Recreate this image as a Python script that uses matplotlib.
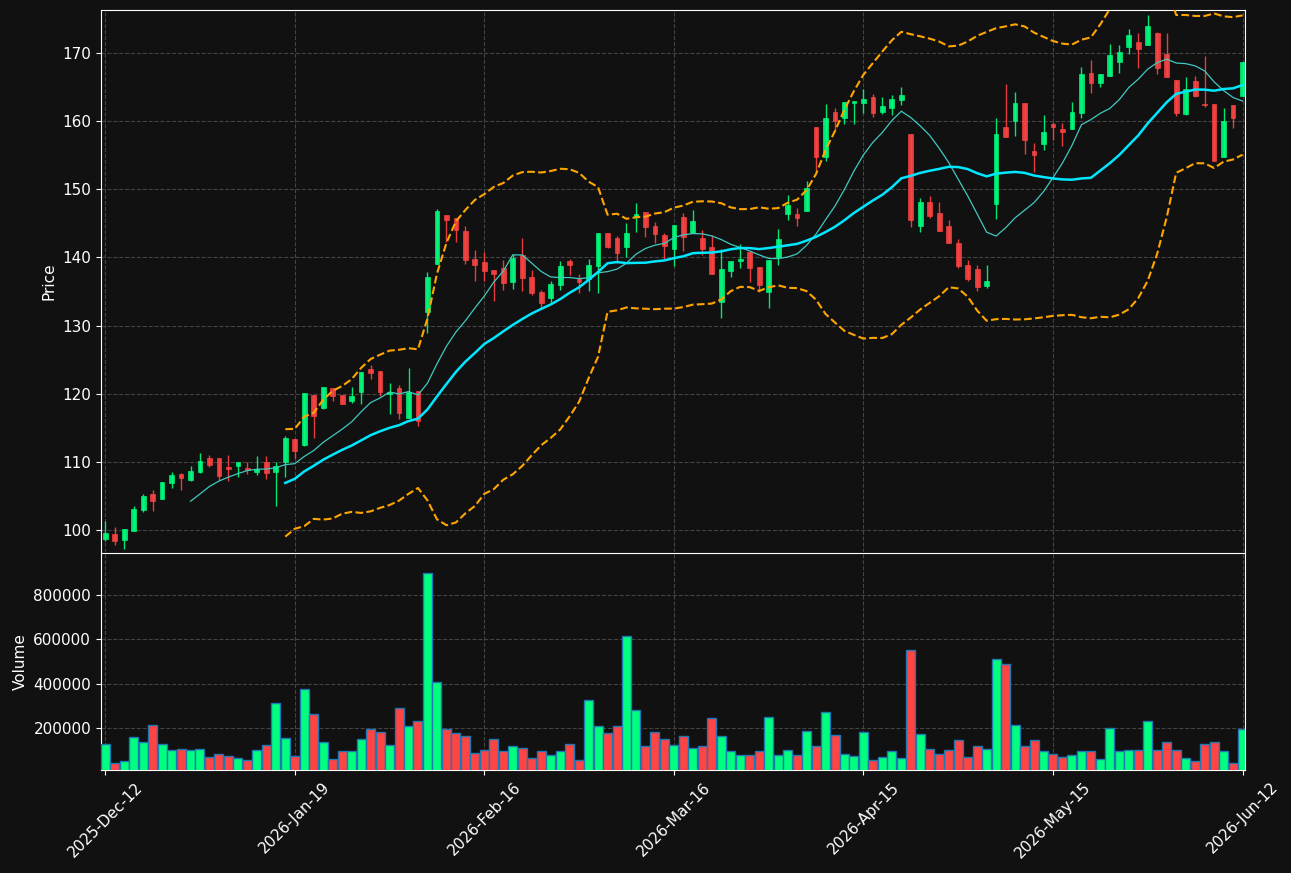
import numpy as np
import pandas as pd
import matplotlib
matplotlib.use('Agg')
import matplotlib.pyplot as plt
from matplotlib.ticker import ScalarFormatter

# Datos OHLC y volumen
opens = [98.72, 99.46, 98.57, 99.90, 103.00, 105.36, 104.62, 106.98, 108.30, 107.42,
         108.60, 110.66, 110.66, 109.34, 109.48, 109.19, 108.60, 109.93, 108.60, 110.07,
         113.32, 112.50, 119.86, 117.90, 120.88, 119.85, 118.97, 120.20, 123.69, 123.39,
         119.95, 120.88, 116.46, 120.39, 131.99, 139.07, 146.24, 145.75, 143.88, 139.75,
         139.36, 138.13, 138.53, 136.41, 140.44, 137.10, 134.89, 134.05, 135.97, 139.46,
         136.81, 136.81, 138.77, 143.59, 142.85, 141.57, 145.95, 146.68, 144.62, 143.29,
         141.28, 145.95, 143.59, 142.85, 141.52, 133.46, 138.00, 139.46, 140.78, 138.58,
         134.91, 140.05, 146.36, 146.36, 146.80, 159.12, 154.77, 161.32, 160.44, 162.64,
         162.64, 163.52, 161.32, 161.91, 163.08, 158.09, 144.60, 148.12, 146.50, 144.60,
         142.10, 138.88, 138.29, 135.79, 147.82, 159.12, 160.00, 162.64, 155.60, 156.63,
         159.56, 158.82, 158.82, 161.18, 167.09, 165.62, 166.65, 168.72, 170.94, 171.67,
         171.23, 173.00, 169.90, 166.06, 161.03, 165.91, 162.51, 162.51, 154.68, 162.36,
         163.69]
highs = [101.28, 100.49, 100.20, 103.54, 105.31, 105.90, 107.13, 108.55, 108.45, 109.43,
         111.25, 110.96, 110.66, 110.96, 110.07, 110.07, 110.81, 110.81, 110.07, 113.76,
         113.32, 120.10, 119.86, 121.03, 120.88, 119.85, 120.98, 123.24, 124.27, 123.39,
         121.62, 121.28, 123.78, 120.39, 137.94, 147.13, 146.24, 145.75, 144.57, 141.03,
         140.74, 138.13, 139.66, 140.49, 142.85, 138.13, 135.18, 136.51, 139.46, 139.85,
         137.64, 139.71, 143.59, 143.59, 143.10, 145.11, 148.00, 146.68, 145.26, 143.59,
         144.77, 146.54, 146.98, 144.03, 143.29, 141.23, 139.46, 141.91, 140.78, 138.58,
         139.61, 144.11, 149.24, 147.19, 151.15, 159.12, 162.49, 161.86, 162.79, 162.93,
         164.70, 163.96, 163.52, 163.81, 165.00, 158.09, 148.70, 149.00, 148.12, 145.48,
         142.69, 139.61, 138.88, 138.88, 160.44, 165.50, 164.25, 162.64, 156.77, 160.88,
         159.85, 159.70, 162.81, 167.98, 169.01, 166.95, 171.38, 171.23, 173.45, 173.00,
         175.52, 173.15, 172.86, 166.06, 166.50, 166.65, 169.60, 162.51, 161.92, 162.36,
         168.72]
lows = [98.38, 97.89, 97.30, 99.90, 102.70, 102.75, 104.62, 106.14, 105.85, 107.17,
        108.40, 109.29, 107.42, 107.17, 107.76, 108.30, 108.16, 107.57, 103.49, 107.86,
        110.37, 112.30, 113.50, 117.79, 118.97, 118.57, 118.62, 118.53, 122.16, 119.66,
        117.00, 116.27, 116.46, 115.33, 128.94, 139.07, 142.21, 142.31, 139.07, 136.56,
        136.56, 133.61, 135.28, 135.43, 135.09, 134.45, 132.78, 133.37, 135.18, 137.49,
        134.84, 135.09, 134.84, 141.33, 139.21, 140.10, 143.78, 143.05, 142.16, 139.85,
        138.77, 140.98, 143.59, 140.39, 137.59, 131.06, 137.07, 138.53, 136.43, 134.87,
        132.66, 138.88, 145.43, 144.55, 146.80, 152.71, 154.18, 158.58, 159.61, 159.61,
        161.27, 160.68, 160.98, 160.88, 162.35, 144.50, 143.77, 145.77, 143.86, 142.10,
        138.44, 136.53, 135.06, 135.50, 145.62, 157.65, 157.80, 155.16, 152.52, 155.75,
        157.19, 156.30, 158.82, 160.44, 164.14, 165.02, 166.65, 167.09, 169.90, 167.83,
        171.23, 166.95, 166.50, 160.74, 160.89, 163.55, 162.07, 154.09, 154.68, 158.97,
        163.69]
closes = [99.56, 98.43, 100.20, 103.14, 105.06, 104.32, 107.13, 108.16, 107.71, 108.75,
          110.22, 109.53, 108.00, 109.04, 110.07, 108.90, 109.04, 108.45, 109.48, 113.46,
          111.60, 120.10, 116.73, 121.03, 119.75, 118.57, 119.70, 123.24, 123.00, 120.29,
          120.29, 117.25, 120.20, 116.07, 137.10, 146.78, 145.55, 144.08, 139.61, 138.92,
          138.03, 137.59, 136.27, 139.90, 137.00, 134.79, 133.32, 136.07, 138.72, 138.92,
          136.41, 138.87, 143.59, 141.57, 140.69, 143.59, 146.39, 144.52, 143.49, 141.67,
          144.77, 143.00, 145.36, 141.23, 137.59, 138.28, 139.46, 139.76, 138.44, 135.94,
          139.61, 142.69, 147.68, 145.82, 150.17, 154.77, 160.44, 160.00, 162.79, 162.93,
          163.23, 161.17, 162.20, 163.23, 163.81, 145.48, 148.12, 146.06, 143.86, 142.10,
          138.73, 136.82, 135.65, 136.53, 158.09, 157.65, 162.64, 157.21, 155.01, 158.39,
          159.12, 158.37, 161.33, 166.95, 165.62, 166.95, 169.75, 170.20, 172.71, 170.64,
          173.89, 167.83, 166.50, 161.18, 164.73, 163.69, 162.36, 154.09, 160.00, 160.44,
          168.72]
volumes = [128000, 42500, 51500, 159500, 137000, 213500, 128000, 101000, 105500, 101000,
           105500, 69500, 83000, 74000, 65000, 56000, 101000, 123500, 312500, 155000,
           74000, 375500, 263000, 137000, 60500, 96500, 96500, 150500, 195500, 182000,
           123500, 290000, 209000, 231500, 897500, 407000, 195500, 177500, 164000, 87500,
           101000, 150500, 96500, 119000, 110000, 65000, 96500, 78500, 96500, 128000,
           56000, 326000, 209000, 177500, 209000, 614000, 281000, 119000, 182000, 150500,
           123500, 164000, 110000, 119000, 245000, 164000, 96500, 78500, 78500, 96500,
           249500, 78500, 101000, 78500, 186500, 119000, 272000, 168500, 83000, 74000,
           182000, 56000, 69500, 96500, 65000, 551000, 173000, 105500, 83000, 101000,
           146000, 69500, 119000, 105500, 510500, 488000, 213500, 119000, 146000, 96500,
           83000, 69500, 78500, 96500, 96500, 60500, 200000, 96500, 101000, 101000,
           231500, 101000, 137000, 101000, 65000, 51500, 128000, 137000, 96500, 42500,
           195500]

tick_pos = [0, 20, 40, 60, 80, 100, 120]
tick_labels = ['2025-Dec-12', '2026-Jan-19', '2026-Feb-16', '2026-Mar-16',
               '2026-Apr-15', '2026-May-15', '2026-Jun-12']

df = pd.DataFrame({'Open': opens, 'High': highs, 'Low': lows,
                   'Close': closes, 'Volume': volumes})
x = np.arange(len(df))

# Medias moviles y bandas de Bollinger
mav10 = df['Close'].rolling(10).mean()
mav20 = df['Close'].rolling(20).mean()
std20 = df['Close'].rolling(20).std()
bb_up = mav20 + 2 * std20
bb_dn = mav20 - 2 * std20

bg = '#111111'
up_c = '#00ff7f'
dn_c = '#ff4444'
sube = df['Close'] >= df['Open']
colores = np.where(sube, up_c, dn_c)

fig = plt.figure(figsize=(12.91, 8.73), dpi=100, facecolor=bg)
ax1 = fig.add_axes([0.0782, 0.3677, 0.8861, 0.6208])
ax2 = fig.add_axes([0.0782, 0.1180, 0.8861, 0.2486], sharex=ax1)

for ax in (ax1, ax2):
    ax.set_facecolor(bg)
    for s in ax.spines.values():
        s.set_color('white')
    ax.tick_params(colors='white', labelsize=11)
    ax.grid(True, color='#444444', linestyle='--', linewidth=0.8)
    ax.set_axisbelow(True)
ax1.spines['bottom'].set_visible(False)

# Velas
ax1.vlines(x, df['Low'], df['High'], colors=colores, linewidth=1.0, alpha=0.9, zorder=2)
cuerpo_base = np.minimum(df['Open'], df['Close'])
cuerpo_alto = np.maximum(np.abs(df['Close'] - df['Open']), 0.12)
ax1.bar(x, cuerpo_alto, bottom=cuerpo_base, width=0.5, color=colores,
        edgecolor=colores, linewidth=0.5, alpha=0.9, zorder=3)

ax1.plot(x, mav10, color='#40c8c0', linewidth=0.9, zorder=4)
ax1.plot(x, mav20, color='#00e8ff', linewidth=1.8, zorder=4)
ax1.plot(x, bb_up, color='orange', linestyle='--', linewidth=1.5, zorder=4)
ax1.plot(x, bb_dn, color='orange', linestyle='--', linewidth=1.5, zorder=4)

ax1.set_ylim(96.8, 176.3)
ax1.set_yticks(np.arange(100, 171, 10))
ax1.set_ylabel('Price', color='white', fontsize=11)
ax1.tick_params(axis='x', bottom=False, labelbottom=False)

# Volumen
ax2.bar(x, df['Volume'], width=0.95, color=colores, edgecolor='#1f77b4', linewidth=1.0, zorder=3)
ax2.set_ylim(0.3 * df['Volume'].min(), 1.1 * df['Volume'].max())
ax2.set_yticks([200000, 400000, 600000, 800000])
fmt = ScalarFormatter(useOffset=False)
fmt.set_scientific(False)
ax2.yaxis.set_major_formatter(fmt)
ax2.set_ylabel('Volume', color='white', fontsize=11)

ax2.set_xlim(-0.45, 120.25)
ax2.set_xticks(tick_pos)
ax2.set_xticklabels(tick_labels, rotation=45, ha='center')

fig.savefig('out.png', dpi=100, facecolor=bg)
